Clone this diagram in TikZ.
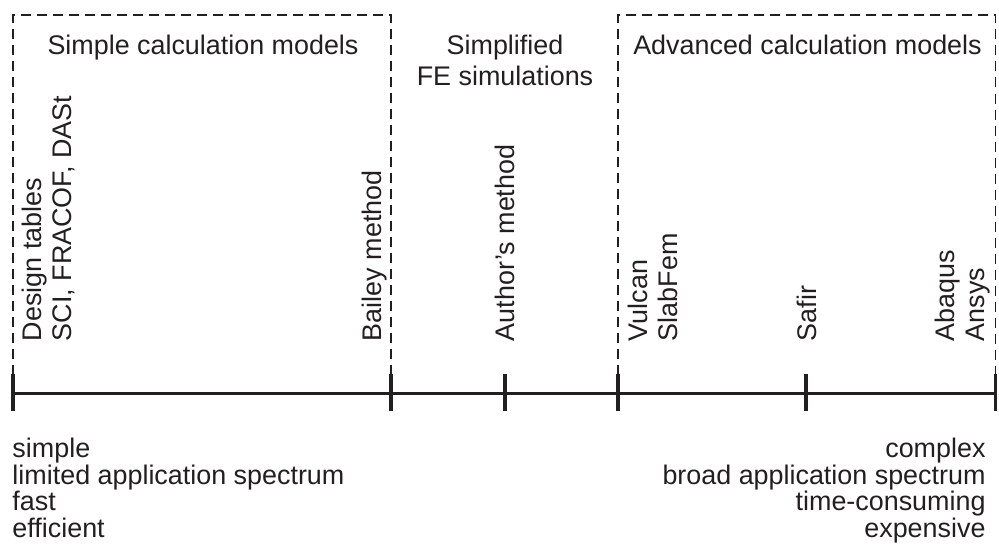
\documentclass[tikz,border=0pt]{standalone}
\usepackage{fontspec}
\setmainfont{Liberation Sans}
\definecolor{ink}{HTML}{231F20}
\begin{document}
\begin{tikzpicture}[x=1pt,y=-1pt,
  txt/.style={inner sep=0pt,outer sep=0pt,text=ink,font=\fontsize{26.9}{30}\selectfont},
  vlab/.style={txt,rotate=90,anchor=base west},
  boxline/.style={draw=ink,line width=1.3pt,dash pattern=on 10pt off 6pt},
  axisline/.style={draw=ink,line width=3pt},
  tickline/.style={draw=ink,line width=3.5pt}]
\useasboundingbox (0,0) rectangle (999,551);
% tick positions on the axis
\coordinate (t1) at (13,393);
\coordinate (t2) at (391,393);
\coordinate (t3) at (505,393);
\coordinate (t4) at (618,393);
\coordinate (t5) at (806,393);
\coordinate (t6) at (995.5,393);
% dashed group boxes (open at the bottom)
\coordinate (b1a) at (13,375);
\coordinate (b1b) at (13,15);
\coordinate (b1c) at (391,15);
\coordinate (b1d) at (391,375);
\coordinate (b2a) at (618,375);
\coordinate (b2b) at (618,15);
\coordinate (b2c) at (995.5,15);
\coordinate (b2d) at (995.5,375);
\draw[boxline] (b1a) -- (b1b) -- (b1c) -- (b1d);
\draw[boxline] (b2a) -- (b2b) -- (b2c) -- (b2d);
% axis
\draw[axisline] (t1) -- (t6);
\foreach \t in {t1,t2,t3,t4,t5,t6}
  \draw[tickline] ([yshift=-18pt]\t) -- ([yshift=19pt]\t);
% titles
\node[txt,anchor=base] (ti1) at (203,55) {Simple calculation models};
\node[txt,anchor=base] (ti2a) at (505,55) {Simplified};
\node[txt,anchor=base] (ti2b) at (505,85) {FE simulations};
\node[txt,anchor=base] (ti3) at (807.5,55) {Advanced calculation models};
% rotated method labels
\node[vlab] (l1a) at (41,341) {Design tables};
\node[vlab] (l1b) at (71,341) {SCI, FRACOF, DASt};
\node[vlab] (l2) at (381,341) {Bailey method};
\node[vlab] (l3) at (514,341) {Author’s method};
\node[vlab] (l4a) at (647,341) {Vulcan};
\node[vlab] (l4b) at (677,341) {SlabFem};
\node[vlab] (l5) at (816,341) {Safir};
\node[vlab] (l6a) at (954,341) {Abaqus};
\node[vlab] (l6b) at (984,341) {Ansys};
% bottom characteristics
\node[txt,anchor=base west] (s1) at (12.5,457) {simple};
\node[txt,anchor=base west] (s2) at (12.5,484) {limited application spectrum};
\node[txt,anchor=base west] (s3) at (12.5,510.5) {fast};
\node[txt,anchor=base west] (s4) at (12.5,537) {efficient};
\node[txt,anchor=base east] (c1) at (985.5,457) {complex};
\node[txt,anchor=base east] (c2) at (985.5,484) {broad application spectrum};
\node[txt,anchor=base east] (c3) at (985.5,510.5) {time-consuming};
\node[txt,anchor=base east] (c4) at (985.5,537) {expensive};
\end{tikzpicture}
\end{document}
